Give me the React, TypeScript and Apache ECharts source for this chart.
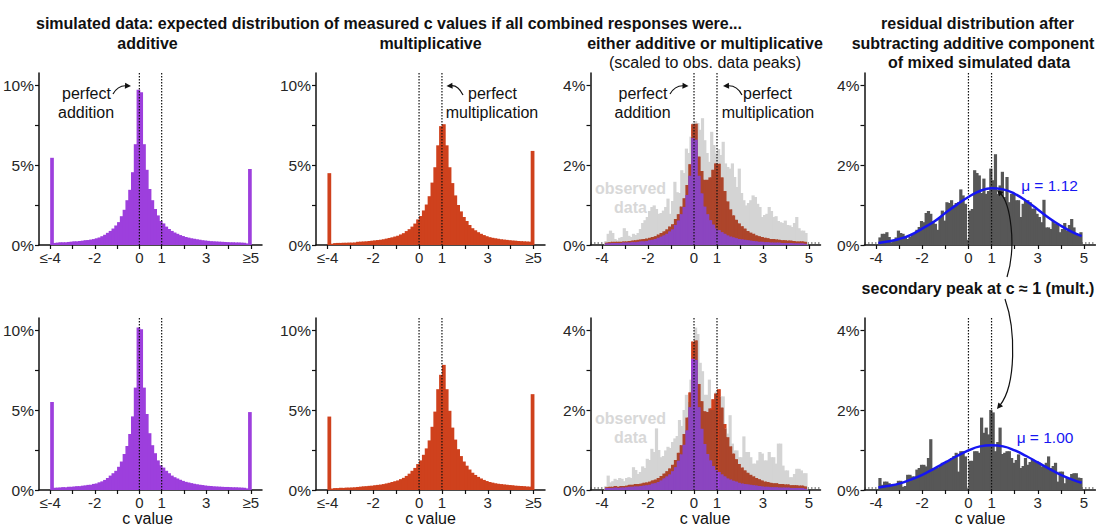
import React, { useEffect, useRef } from 'react';
import * as echarts from 'echarts';

// Simulated panels: 1/8-unit bins from -4 to 5; first and last bins hold all c ≤ -4 and c ≥ 5.
const SIM_START = -4;
const SIM_WIDTH = 0.125;
// Mixed panels drop the two overflow bins.
const MIX_START = -3.875;
// Observed data and residuals: 0.1-unit bins.
const OBS_START = -3.9;
const OBS_WIDTH = 0.1;

// % of combinations per bin
const ADD_TOP = [
  5.45, 0.13, 0.15, 0.17, 0.17, 0.17, 0.19, 0.21, 0.23, 0.23,
  0.25, 0.27, 0.3, 0.31, 0.34, 0.37, 0.42, 0.47, 0.55, 0.64,
  0.76, 0.88, 1.03, 1.22, 1.43, 1.8, 2.2, 2.8, 3.45, 4.55,
  6.3, 9.7, 9.55, 6.3, 4.7, 3.5, 2.8, 2.25, 1.85, 1.5,
  1.35, 1.15, 1.0, 0.88, 0.78, 0.7, 0.62, 0.56, 0.5, 0.46,
  0.42, 0.39, 0.36, 0.33, 0.3, 0.28, 0.26, 0.24, 0.23, 0.22,
  0.21, 0.2, 0.19, 0.18, 0.17, 0.17, 0.16, 0.16, 0.15, 0.14,
  0.1, 4.75,
];
const MULT_TOP = [
  4.49, 0.08, 0.12, 0.13, 0.13, 0.14, 0.14, 0.15, 0.15, 0.16,
  0.2, 0.21, 0.22, 0.23, 0.25, 0.27, 0.29, 0.31, 0.33, 0.36,
  0.4, 0.44, 0.48, 0.53, 0.58, 0.66, 0.74, 0.87, 0.99, 1.15,
  1.34, 1.6, 1.81, 2.16, 2.53, 3.05, 3.9, 4.86, 6.23, 7.43,
  7.55, 6.23, 4.86, 3.87, 3.1, 2.5, 2.1, 1.75, 1.5, 1.25,
  1.05, 0.92, 0.8, 0.7, 0.62, 0.55, 0.49, 0.45, 0.42, 0.39,
  0.36, 0.34, 0.32, 0.3, 0.28, 0.27, 0.25, 0.24, 0.23, 0.22,
  0.21, 5.88,
];
const ADD_BOT = [
  5.5, 0.14, 0.15, 0.16, 0.18, 0.17, 0.2, 0.2, 0.22, 0.24,
  0.24, 0.27, 0.29, 0.32, 0.33, 0.38, 0.41, 0.48, 0.54, 0.63,
  0.75, 0.9, 1.05, 1.2, 1.45, 1.78, 2.25, 2.75, 3.5, 4.6,
  6.4, 10.15, 10.05, 6.4, 4.75, 3.55, 2.8, 2.3, 1.85, 1.55,
  1.4, 1.2, 1.05, 0.9, 0.8, 0.72, 0.64, 0.57, 0.51, 0.47,
  0.43, 0.39, 0.36, 0.33, 0.31, 0.28, 0.26, 0.25, 0.23, 0.22,
  0.21, 0.2, 0.19, 0.19, 0.18, 0.17, 0.17, 0.16, 0.15, 0.14,
  0.1, 4.87,
];
const MULT_BOT = [
  4.59, 0.09, 0.12, 0.12, 0.14, 0.13, 0.15, 0.15, 0.16, 0.17,
  0.19, 0.21, 0.23, 0.24, 0.26, 0.27, 0.3, 0.32, 0.34, 0.37,
  0.41, 0.45, 0.5, 0.55, 0.6, 0.68, 0.76, 0.88, 1.02, 1.2,
  1.38, 1.62, 1.85, 2.2, 2.6, 3.1, 3.95, 4.9, 6.3, 7.2,
  7.82, 6.3, 4.95, 3.9, 3.15, 2.55, 2.12, 1.78, 1.52, 1.28,
  1.08, 0.94, 0.82, 0.72, 0.63, 0.56, 0.5, 0.46, 0.42, 0.39,
  0.37, 0.35, 0.33, 0.31, 0.29, 0.27, 0.26, 0.25, 0.24, 0.22,
  0.21, 5.99,
];

// additive component of the mixture (scaled to observed peaks)
const MIX_ADD_TOP = [
  0.04, 0.04, 0.05, 0.05, 0.05, 0.05, 0.06, 0.06, 0.06, 0.07,
  0.07, 0.08, 0.09, 0.09, 0.1, 0.12, 0.13, 0.15, 0.18, 0.21,
  0.24, 0.28, 0.34, 0.39, 0.5, 0.61, 0.77, 0.95, 1.25, 1.73,
  2.67, 2.63, 1.73, 1.29, 0.96, 0.77, 0.62, 0.51, 0.41, 0.37,
  0.32, 0.28, 0.24, 0.21, 0.19, 0.17, 0.15, 0.14, 0.13, 0.12,
  0.11, 0.1, 0.09, 0.08, 0.08, 0.07, 0.07, 0.06, 0.06, 0.06,
  0.06, 0.05, 0.05, 0.05, 0.05, 0.04, 0.04, 0.04, 0.04, 0.03,
];
// additive + multiplicative mixture
const MIX_ALL_TOP = [
  0.06, 0.07, 0.08, 0.08, 0.08, 0.08, 0.09, 0.09, 0.1, 0.11,
  0.12, 0.13, 0.14, 0.15, 0.16, 0.18, 0.2, 0.22, 0.26, 0.3,
  0.34, 0.39, 0.46, 0.52, 0.65, 0.77, 0.96, 1.17, 1.5, 2.02,
  3.02, 3.03, 2.21, 1.85, 1.63, 1.63, 1.69, 1.88, 2.04, 2.03,
  1.69, 1.35, 1.09, 0.89, 0.74, 0.63, 0.54, 0.47, 0.41, 0.35,
  0.31, 0.28, 0.24, 0.22, 0.2, 0.18, 0.17, 0.15, 0.15, 0.14,
  0.13, 0.12, 0.12, 0.11, 0.11, 0.1, 0.09, 0.09, 0.09, 0.08,
];
const MIX_ADD_BOT = [
  0.05, 0.05, 0.05, 0.06, 0.05, 0.06, 0.06, 0.07, 0.08, 0.08,
  0.09, 0.09, 0.1, 0.11, 0.12, 0.13, 0.16, 0.17, 0.2, 0.24,
  0.29, 0.34, 0.39, 0.47, 0.57, 0.73, 0.89, 1.13, 1.49, 2.07,
  3.28, 3.25, 2.07, 1.53, 1.15, 0.9, 0.74, 0.6, 0.5, 0.45,
  0.39, 0.34, 0.29, 0.26, 0.23, 0.21, 0.18, 0.16, 0.15, 0.14,
  0.13, 0.12, 0.11, 0.1, 0.09, 0.08, 0.08, 0.07, 0.07, 0.07,
  0.06, 0.06, 0.06, 0.06, 0.05, 0.05, 0.05, 0.05, 0.05, 0.03,
];
const MIX_ALL_BOT = [
  0.07, 0.08, 0.08, 0.1, 0.08, 0.1, 0.1, 0.11, 0.13, 0.13,
  0.15, 0.15, 0.16, 0.18, 0.19, 0.21, 0.24, 0.26, 0.3, 0.35,
  0.41, 0.47, 0.54, 0.63, 0.75, 0.93, 1.12, 1.4, 1.81, 2.44,
  3.71, 3.74, 2.65, 2.22, 1.97, 1.95, 2.04, 2.27, 2.41, 2.52,
  2.06, 1.65, 1.32, 1.09, 0.91, 0.77, 0.65, 0.56, 0.49, 0.43,
  0.38, 0.34, 0.3, 0.27, 0.24, 0.21, 0.2, 0.18, 0.17, 0.17,
  0.15, 0.15, 0.14, 0.14, 0.12, 0.12, 0.12, 0.11, 0.11, 0.09,
];

// observed c values
const OBS_TOP = [
  0.1, 0.28, 0.36, 0.3, 0.15, 0.12, 0.18, 0.2, 0.42, 0.35,
  0.23, 0.2, 0.28, 0.25, 0.3, 0.4, 0.55, 0.62, 0.7, 0.85,
  0.95, 0.99, 0.9, 0.78, 0.8, 0.86, 0.95, 1.16, 0.78, 1.1,
  1.58, 1.32, 1.3, 1.87, 1.8, 2.41, 2.3, 2.71, 3.05, 3.1,
  3.05, 2.88, 3.17, 2.62, 2.3, 2.08, 2.83, 2.5, 2.29, 2.4,
  2.25, 2.58, 2.04, 1.95, 1.91, 2.04, 1.7, 1.45, 1.91, 1.3,
  1.12, 0.99, 1.05, 1.12, 1.24, 1.2, 1.03, 0.95, 0.7, 0.75,
  0.78, 0.95, 0.85, 0.7, 0.72, 0.6, 0.57, 0.55, 0.61, 0.5,
  0.49, 0.45, 0.55, 0.7, 0.42, 0.36, 0.36, 0.3,
];
const OBS_BOT = [
  0.1, 0.36, 0.19, 0.22, 0.28, 0.25, 0.3, 0.28, 0.22, 0.3,
  0.32, 0.3, 0.57, 0.5, 0.4, 0.45, 0.59, 0.55, 0.78, 0.75,
  1.03, 0.95, 1.54, 1.0, 0.82, 0.85, 0.99, 1.08, 1.05, 1.2,
  1.29, 1.35, 1.75, 1.6, 2.0, 2.38, 2.2, 2.76, 3.0, 4.06,
  3.9, 3.18, 2.97, 2.38, 2.38, 2.76, 2.0, 2.0, 2.46, 0.05,
  2.34, 2.34, 1.54, 1.41, 1.87, 1.16, 0.99, 0.99, 0.82, 0.82,
  1.34, 0.95, 0.95, 0.82, 0.66, 0.66, 0.74, 0.95, 0.91, 0.74,
  0.74, 0.95, 0.82, 0.82, 0.66, 1.16, 1.16, 0.61, 0.49, 0.49,
  0.32, 0.32, 0.4, 0.53, 0.53, 0.49, 0.42, 0.42,
];

// residual after subtracting the additive component
const RESID_TOP = [
  0.19, 0.28, 0.28, 0.32, 0.2, 0.07, 0.1, 0.19, 0.36, 0.3,
  0.28, 0.2, 0.15, 0.2, 0.28, 0.3, 0.38, 0.45, 0.6, 0.57,
  0.8, 0.85, 0.78, 0.6, 0.53, 0.38, 0.7, 0.86, 0.61, 1.07,
  1.05, 1.12, 0.99, 1.05, 1.07, 1.39, 1.24, 1.03, 0.13, 0.86,
  0.9, 1.87, 1.8, 1.74, 1.3, 1.66, 1.28, 1.35, 1.91, 1.62,
  2.27, 1.28, 1.49, 1.83, 1.2, 1.7, 1.07, 1.28, 1.28, 1.12,
  1.12, 0.7, 1.03, 1.1, 1.12, 1.07, 0.91, 0.91, 0.78, 0.7,
  0.57, 1.13, 0.44, 0.44, 0.4, 0.6, 0.53, 0.53, 0.32, 0.4,
  0.55, 0.36, 0.5, 0.65, 0.44, 0.3, 0.28, 0.32,
];
const RESID_BOT = [
  0.3, 0.13, 0.21, 0.21, 0.17, 0.13, 0.15, 0.13, 0.23, 0.23,
  0.08, 0.1, 0.38, 0.38, 0.34, 0.34, 0.51, 0.55, 0.63, 0.63,
  0.59, 0.8, 1.27, 0.55, 0.55, 0.55, 0.6, 0.68, 0.68, 0.73,
  0.75, 0.8, 0.85, 0.93, 0.46, 0.97, 0.97, 0.84, 0.04, 0.73,
  0.73, 0.97, 0.97, 0.93, 1.81, 1.43, 1.56, 1.39, 2.0, 1.94,
  0.97, 1.2, 1.56, 0.9, 0.93, 0.97, 0.97, 0.8, 0.68, 0.75,
  0.89, 0.55, 0.6, 0.8, 0.63, 0.7, 0.76, 0.72, 0.72, 0.68,
  0.59, 0.62, 0.68, 0.84, 0.55, 0.6, 0.68, 0.21, 0.46, 0.46,
  0.17, 0.3, 0.3, 0.4, 0.42, 0.42, 0.31, 0.3,
];

// fitted normal curve through the residuals
const FIT_X = [-3.9, -3.5, -3, -2.5, -2, -1.5, -1, -0.5, 0, 0.5, 1, 1.5, 2, 2.5, 3, 3.5, 4, 4.5, 4.9];
const FIT_TOP = [0.05, 0.09, 0.15, 0.25, 0.41, 0.58, 0.8, 1.01, 1.2, 1.35, 1.42, 1.39, 1.28, 1.1, 0.89, 0.67, 0.48, 0.32, 0.22];
const FIT_BOT = [0.06, 0.1, 0.16, 0.26, 0.38, 0.53, 0.69, 0.85, 0.99, 1.09, 1.12, 1.09, 0.99, 0.85, 0.69, 0.53, 0.38, 0.26, 0.18];
const MU_TOP = '1.12';
const MU_BOT = '1.00';

const GUIDES = [0, 1]; // perfect addition / perfect multiplication
const FLOOR = 0.05;

const X_TICKS = [-4, -3, -2, -1, 0, 1, 2, 3, 4, 5];
const X_LABELS = [-4, -2, 0, 1, 3, 5];
const Y_TICKS_SIM = [0, 2.5, 5, 7.5, 10];
const Y_LABELS_SIM = [0, 5, 10];
const Y_TICKS_MIX = [0, 1, 2, 3, 4];
const Y_LABELS_MIX = [0, 2, 4];

const FONT = '"Liberation Sans", Arial, Helvetica, sans-serif';
const PURPLE = '#9d3fdd';
const RED = '#cf411d';
const PURPLE_DIM = '#8b45c0';
const RED_DIM = '#ad452b';
const OBS_GRAY = '#d4d4d4';
const RESID_GRAY = '#575757';
const FIT_BLUE = '#1616f2';
const INK = '#111';

const PANEL_LEFT = [33, 316, 590.5, 864.5];
const PANEL_WIDTH = [229, 229, 230, 231];
const ROW_TOP = [73, 318];
const PANEL_HEIGHT = 172;

function histData(start: number, width: number, values: number[]) {
  return values.map((v, i) => [start + i * width, start + (i + 1) * width, v]);
}

function rectBetween(api: any, x0: number, x1: number, y0: number, y1: number, fill: string) {
  const p0 = api.coord([x0, y0]);
  const p1 = api.coord([x1, y1]);
  return {
    type: 'rect',
    shape: { x: p0[0], y: p1[1], width: p1[0] - p0[0] + 0.9, height: p0[1] - p1[1] },
    style: { fill, stroke: null },
  };
}

const solidBars = (fill: string) => (_params: any, api: any) =>
  rectBetween(api, api.value(0), api.value(1), 0, api.value(2), fill);

// Bars drawn behind the observed histogram take a dimmer tone where covered.
const shadedBars = (bright: string, dim: string, obs: number[]) => (_params: any, api: any) => {
  const a = api.value(0);
  const b = api.value(1);
  const v = api.value(2);
  const cuts = [a];
  for (let n = 0; n <= obs.length; n++) {
    const e = OBS_START + n * OBS_WIDTH;
    if (e > a + 1e-6 && e < b - 1e-6) cuts.push(e);
  }
  cuts.push(b);
  const children: any[] = [];
  for (let s = 0; s < cuts.length - 1; s++) {
    const x0 = cuts[s];
    const x1 = cuts[s + 1];
    const gi = Math.floor(((x0 + x1) / 2 - OBS_START) / OBS_WIDTH);
    const g = gi >= 0 && gi < obs.length ? obs[gi] : 0;
    const low = Math.min(v, g);
    if (low > 0) children.push(rectBetween(api, x0, x1, 0, low, dim));
    if (v > g) children.push(rectBetween(api, x0, x1, g, v, bright));
  }
  return { type: 'group', children };
};

const guideLine = (params: any, api: any) => {
  const cs = params.coordSys;
  const x = api.coord([api.value(0), 0])[0];
  return {
    type: 'line',
    shape: { x1: x, y1: cs.y, x2: x, y2: cs.y + cs.height },
    style: { stroke: INK, lineWidth: 1.2, lineDash: [1.5, 1.5] },
  };
};

const floorLine = (params: any, api: any) => {
  const cs = params.coordSys;
  const y = api.coord([0, api.value(1)])[1];
  return {
    type: 'line',
    shape: { x1: cs.x, y1: y, x2: cs.x + cs.width, y2: y },
    style: { stroke: '#333', lineWidth: 1, lineDash: [1.5, 2] },
  };
};

type Panel = {
  row: number;
  col: number;
  kind: 'sim' | 'mix' | 'resid';
  values?: number[];
  color?: string;
  obs?: number[];
  all?: number[];
  add?: number[];
  fit?: number[];
};

const PANELS: Panel[] = [
  { row: 0, col: 0, kind: 'sim', values: ADD_TOP, color: PURPLE },
  { row: 0, col: 1, kind: 'sim', values: MULT_TOP, color: RED },
  { row: 0, col: 2, kind: 'mix', obs: OBS_TOP, all: MIX_ALL_TOP, add: MIX_ADD_TOP },
  { row: 0, col: 3, kind: 'resid', values: RESID_TOP, fit: FIT_TOP },
  { row: 1, col: 0, kind: 'sim', values: ADD_BOT, color: PURPLE },
  { row: 1, col: 1, kind: 'sim', values: MULT_BOT, color: RED },
  { row: 1, col: 2, kind: 'mix', obs: OBS_BOT, all: MIX_ALL_BOT, add: MIX_ADD_BOT },
  { row: 1, col: 3, kind: 'resid', values: RESID_BOT, fit: FIT_BOT },
];

function text(t: string, x: number, y: number, font: string, fill = INK) {
  return {
    type: 'text',
    x,
    y,
    z: 100,
    silent: true,
    style: { text: t, font, fill, align: 'center', verticalAlign: 'middle', textAlign: 'center', textVerticalAlign: 'middle' },
  };
}

function arrow(x1: number, y1: number, c1x: number, c1y: number, c2x: number, c2y: number, x2: number, y2: number) {
  const dx = x2 - c2x;
  const dy = y2 - c2y;
  const len = Math.hypot(dx, dy) || 1;
  const ux = dx / len;
  const uy = dy / len;
  const L = 6;
  const W = 3;
  const bx = x2 - ux * L;
  const by = y2 - uy * L;
  return [
    {
      type: 'bezierCurve',
      z: 100,
      silent: true,
      shape: { x1, y1, x2: bx + ux, y2: by + uy, cpx1: c1x, cpy1: c1y, cpx2: c2x, cpy2: c2y },
      style: { stroke: INK, lineWidth: 1.2, fill: 'none' },
    },
    {
      type: 'polygon',
      z: 100,
      silent: true,
      shape: { points: [[x2, y2], [bx - uy * W, by + ux * W], [bx + uy * W, by - ux * W]] },
      style: { fill: INK },
    },
  ];
}

function buildOption() {
  const grid: any[] = [];
  const xAxis: any[] = [];
  const yAxis: any[] = [];
  const series: any[] = [];

  PANELS.forEach((p, g) => {
    const sim = p.kind === 'sim';
    grid.push({ left: PANEL_LEFT[p.col], top: ROW_TOP[p.row], width: PANEL_WIDTH[p.col], height: PANEL_HEIGHT });
    xAxis.push({
      type: 'value',
      gridIndex: g,
      min: -4.5,
      max: 5.5,
      splitLine: { show: false },
      axisLine: { show: true, onZero: false, lineStyle: { color: INK, width: 1.5 } },
      axisTick: { show: true, inside: false, length: 4, customValues: X_TICKS, lineStyle: { color: INK, width: 1.2 } },
      axisLabel: {
        customValues: X_LABELS,
        fontSize: 15,
        fontFamily: FONT,
        color: '#262626',
        margin: 5,
        formatter: (v: number) => (sim && v === -4 ? '≤-4' : sim && v === 5 ? '≥5' : String(v)),
      },
    });
    yAxis.push({
      type: 'value',
      gridIndex: g,
      min: 0,
      max: sim ? 10.75 : 4.3,
      splitLine: { show: false },
      axisLine: { show: true, onZero: false, lineStyle: { color: INK, width: 1.5 } },
      axisTick: { show: true, inside: false, length: 4, customValues: sim ? Y_TICKS_SIM : Y_TICKS_MIX, lineStyle: { color: INK, width: 1.2 } },
      axisLabel: {
        customValues: sim ? Y_LABELS_SIM : Y_LABELS_MIX,
        fontSize: 15.5,
        fontFamily: FONT,
        color: '#262626',
        margin: 5,
        formatter: (v: number) => `${v}%`,
      },
    });
    const ax = { xAxisIndex: g, yAxisIndex: g };

    if (!sim) {
      series.push({ type: 'custom', ...ax, z: 1, silent: true, renderItem: floorLine, data: [[-4.5, FLOOR]], encode: { x: 0, y: 1 } });
    }
    if (p.kind === 'sim') {
      series.push({
        type: 'custom', ...ax, z: 2, silent: true,
        renderItem: solidBars(p.color!),
        data: histData(SIM_START, SIM_WIDTH, p.values!),
        encode: { x: [0, 1], y: 2 },
      });
    } else if (p.kind === 'mix') {
      series.push({
        type: 'custom', ...ax, z: 2, silent: true,
        renderItem: solidBars(OBS_GRAY),
        data: histData(OBS_START, OBS_WIDTH, p.obs!),
        encode: { x: [0, 1], y: 2 },
      });
      series.push({
        type: 'custom', ...ax, z: 3, silent: true,
        renderItem: shadedBars(RED, RED_DIM, p.obs!),
        data: histData(MIX_START, SIM_WIDTH, p.all!),
        encode: { x: [0, 1], y: 2 },
      });
      series.push({
        type: 'custom', ...ax, z: 4, silent: true,
        renderItem: shadedBars(PURPLE, PURPLE_DIM, p.obs!),
        data: histData(MIX_START, SIM_WIDTH, p.add!),
        encode: { x: [0, 1], y: 2 },
      });
    } else {
      series.push({
        type: 'custom', ...ax, z: 2, silent: true,
        renderItem: solidBars(RESID_GRAY),
        data: histData(OBS_START, OBS_WIDTH, p.values!),
        encode: { x: [0, 1], y: 2 },
      });
      series.push({
        type: 'line', ...ax, z: 6, silent: true,
        smooth: true,
        showSymbol: false,
        lineStyle: { color: FIT_BLUE, width: 2.5 },
        data: FIT_X.map((x, i) => [x, p.fit![i]]),
      });
    }
    series.push({
      type: 'custom', ...ax, z: 5, silent: true,
      renderItem: guideLine,
      data: GUIDES.map((x) => [x, 0]),
      encode: { x: 0, y: 1 },
    });
  });

  const B16 = `bold 16px ${FONT}`;
  const R16 = `16px ${FONT}`;
  const MU_FONT = `15.5px ${FONT}`;
  const graphic: any[] = [
    text('simulated data: expected distribution of measured c values if all combined responses were...', 389, 23, B16),
    text('additive', 147.5, 43, B16),
    text('multiplicative', 430.5, 43, B16),
    text('either additive or multiplicative', 705, 43, B16),
    text('(scaled to obs. data peaks)', 705, 62, R16),
    text('residual distribution after', 977.5, 23, B16),
    text('subtracting additive component', 973, 43, B16),
    text('of mixed simulated data', 979, 62, B16),

    text('perfect', 86.5, 93, R16),
    text('addition', 86, 112, R16),
    ...arrow(113, 94, 117, 87, 121, 85.5, 131, 86),
    text('perfect', 492.5, 93, R16),
    text('multiplication', 492, 112, R16),
    ...arrow(463, 95, 459, 87, 455, 85.5, 446.5, 86),
    text('perfect', 643, 93, R16),
    text('addition', 642.5, 112, R16),
    ...arrow(670, 94, 674, 87, 678, 85.5, 688.5, 86),
    text('perfect', 767.5, 93, R16),
    text('multiplication', 768, 112, R16),
    ...arrow(742, 95, 738, 87, 733, 85.5, 723, 86),

    text('observed', 630.5, 188, B16, '#d8d8d8'),
    text('data', 630.5, 207, B16, '#d8d8d8'),
    text('observed', 630.5, 418, B16, '#d8d8d8'),
    text('data', 630.5, 437, B16, '#d8d8d8'),

    text(`μ = ${MU_TOP}`, 1049.5, 185, MU_FONT, FIT_BLUE),
    text(`μ = ${MU_BOT}`, 1045, 437, MU_FONT, FIT_BLUE),

    text('secondary peak at c ≈ 1 (mult.)', 978, 288, B16),
    ...arrow(1007, 277, 1017, 245, 1010, 203, 997, 190),
    ...arrow(1005, 299, 1016, 330, 1016, 385, 997, 409),

    text('c value', 147.5, 518, R16),
    text('c value', 430.5, 518, R16),
    text('c value', 705, 518, R16),
    text('c value', 980, 518, R16),
  ];

  return {
    animation: false,
    backgroundColor: '#fff',
    textStyle: { fontFamily: FONT },
    grid,
    xAxis,
    yAxis,
    series,
    graphic,
  };
}

export default function App() {
  const ref = useRef<HTMLDivElement>(null);
  useEffect(() => {
    const chart = echarts.init(ref.current!, null, { renderer: 'svg' });
    chart.setOption(buildOption() as any);
    return () => chart.dispose();
  }, []);
  return (
    <div
      ref={ref}
      style={{ position: 'fixed', left: 0, top: 0, width: 1096, height: 529, background: '#fff' }}
    />
  );
}
